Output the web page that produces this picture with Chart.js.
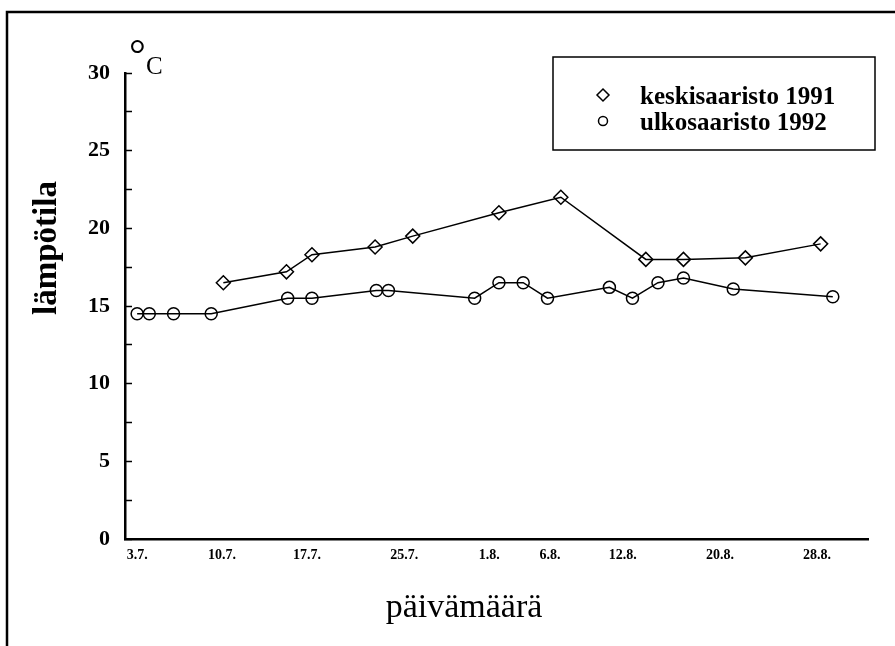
<!DOCTYPE html>
<html lang="fi">
<head>
    <meta charset="UTF-8">
    <title>Lämpötila</title>
    <script src="https://cdn.jsdelivr.net/npm/chart.js"></script>
    <style>
        body { margin: 0; background: #fff; }
    </style>
</head>
<body>
    <canvas id="tempChart" width="895" height="646"></canvas>
    <script>
        // x values are days counted from 1 July (1.8. = 32)
        const tickDays = [3, 10, 17, 25, 32, 37, 43, 51, 59];
        const tickLabels = ['3.7.', '10.7.', '17.7.', '25.7.', '1.8.', '6.8.', '12.8.', '20.8.', '28.8.'];

        const seriesNames = ['keskisaaristo 1991', 'ulkosaaristo 1992'];

        const keskiDays = [10.1, 15.3, 17.4, 22.6, 25.7, 32.8, 37.9, 44.9, 48.0, 53.1, 59.3];
        const keskiTemps = [16.5, 17.2, 18.3, 18.8, 19.5, 21.0, 22.0, 18.0, 18.0, 18.1, 19.0];

        const ulkoDays = [3.0, 4.0, 6.0, 9.1, 15.4, 17.4, 22.7, 23.7, 30.8, 32.8, 34.8, 36.8, 41.9, 43.8, 45.9, 48.0, 52.1, 60.3];
        const ulkoTemps = [14.5, 14.5, 14.5, 14.5, 15.5, 15.5, 16.0, 16.0, 15.5, 16.5, 16.5, 15.5, 16.2, 15.5, 16.5, 16.8, 16.1, 15.6];

        const serif = "'Liberation Serif', 'Times New Roman', serif";
        Chart.defaults.font.family = serif;
        Chart.defaults.color = '#000';

        function toPoints(xs, ys) {
            return xs.map((x, i) => ({ x: x, y: ys[i] }));
        }

        // frame, axis titles, unit and the boxed legend
        const extras = {
            id: 'extras',
            beforeDraw(chart) {
                const ctx = chart.ctx;
                ctx.save();
                ctx.fillStyle = '#fff';
                ctx.fillRect(0, 0, chart.width, chart.height);
                ctx.strokeStyle = '#000';
                ctx.lineWidth = 2.5;
                ctx.beginPath();
                ctx.moveTo(7, chart.height);
                ctx.lineTo(7, 12);
                ctx.lineTo(chart.width, 12);
                ctx.stroke();
                ctx.restore();
            },
            afterDraw(chart) {
                const ctx = chart.ctx;
                ctx.save();
                ctx.fillStyle = '#000';
                ctx.strokeStyle = '#000';

                // y title
                ctx.save();
                ctx.translate(56, 248);
                ctx.rotate(-Math.PI / 2);
                ctx.font = 'bold 33px ' + serif;
                ctx.textAlign = 'center';
                ctx.textBaseline = 'alphabetic';
                ctx.fillText('lämpötila', 0, 0);
                ctx.restore();

                // x title
                ctx.font = '34px ' + serif;
                ctx.textAlign = 'center';
                ctx.textBaseline = 'alphabetic';
                ctx.fillText('päivämäärä', 464, 617);

                // unit
                ctx.textAlign = 'left';
                ctx.font = '42px ' + serif;
                ctx.fillText('°', 129, 68);
                ctx.font = '25px ' + serif;
                ctx.fillText('C', 146, 74);

                // legend
                ctx.lineWidth = 1.5;
                ctx.strokeRect(553, 57, 322, 93);
                ctx.beginPath();
                ctx.moveTo(603, 89);
                ctx.lineTo(609, 95);
                ctx.lineTo(603, 101);
                ctx.lineTo(597, 95);
                ctx.closePath();
                ctx.stroke();
                ctx.beginPath();
                ctx.arc(603, 121, 4.5, 0, Math.PI * 2);
                ctx.stroke();
                ctx.font = 'bold 25px ' + serif;
                ctx.fillText(seriesNames[0], 640, 104);
                ctx.fillText(seriesNames[1], 640, 130);
                ctx.restore();
            }
        };

        const ctx = document.getElementById('tempChart').getContext('2d');
        const chart = new Chart(ctx, {
            type: 'line',
            data: {
                datasets: [{
                    label: seriesNames[0],
                    data: toPoints(keskiDays, keskiTemps),
                    borderColor: '#000',
                    borderWidth: 1.5,
                    pointStyle: 'rectRot',
                    pointRadius: 7,
                    pointBorderWidth: 1.5,
                    pointBorderColor: '#000',
                    pointBackgroundColor: 'rgba(0,0,0,0)',
                    tension: 0,
                    fill: false
                }, {
                    label: seriesNames[1],
                    data: toPoints(ulkoDays, ulkoTemps),
                    borderColor: '#000',
                    borderWidth: 1.5,
                    pointStyle: 'circle',
                    pointRadius: 6,
                    pointBorderWidth: 1.5,
                    pointBorderColor: '#000',
                    pointBackgroundColor: 'rgba(0,0,0,0)',
                    tension: 0,
                    fill: false
                }]
            },
            options: {
                responsive: false,
                animation: false,
                devicePixelRatio: 1,
                layout: { padding: { top: 73, right: 27, bottom: 0, left: 0 } },
                plugins: {
                    legend: { display: false },
                    tooltip: { enabled: false }
                },
                scales: {
                    x: {
                        type: 'linear',
                        min: 2,
                        max: 63.2,
                        afterBuildTicks: s => { s.ticks = tickDays.map(v => ({ value: v })); },
                        ticks: {
                            autoSkip: false,
                            maxRotation: 0,
                            padding: 8,
                            font: { size: 14, weight: 'bold' },
                            callback: (v, i) => tickLabels[i]
                        },
                        grid: { display: false, drawTicks: false },
                        border: { color: '#000', width: 2.5 },
                        afterFit: s => { s.height = 107; s.paddingLeft = 0; s.paddingRight = 0; }
                    },
                    y: {
                        min: 0,
                        max: 30,
                        ticks: {
                            stepSize: 2.5,
                            autoSkip: false,
                            padding: 22,
                            font: { size: 22, weight: 'bold' },
                            callback: v => (v % 5 === 0 ? v : '')
                        },
                        grid: {
                            drawOnChartArea: false,
                            drawTicks: true,
                            tickLength: -7,
                            tickColor: '#000',
                            tickWidth: 1.5
                        },
                        border: { color: '#000', width: 2.5 },
                        afterFit: s => { s.width = 125; s.paddingTop = 0; s.paddingBottom = 0; }
                    }
                }
            },
            plugins: [extras]
        });
    </script>
</body>
</html>
